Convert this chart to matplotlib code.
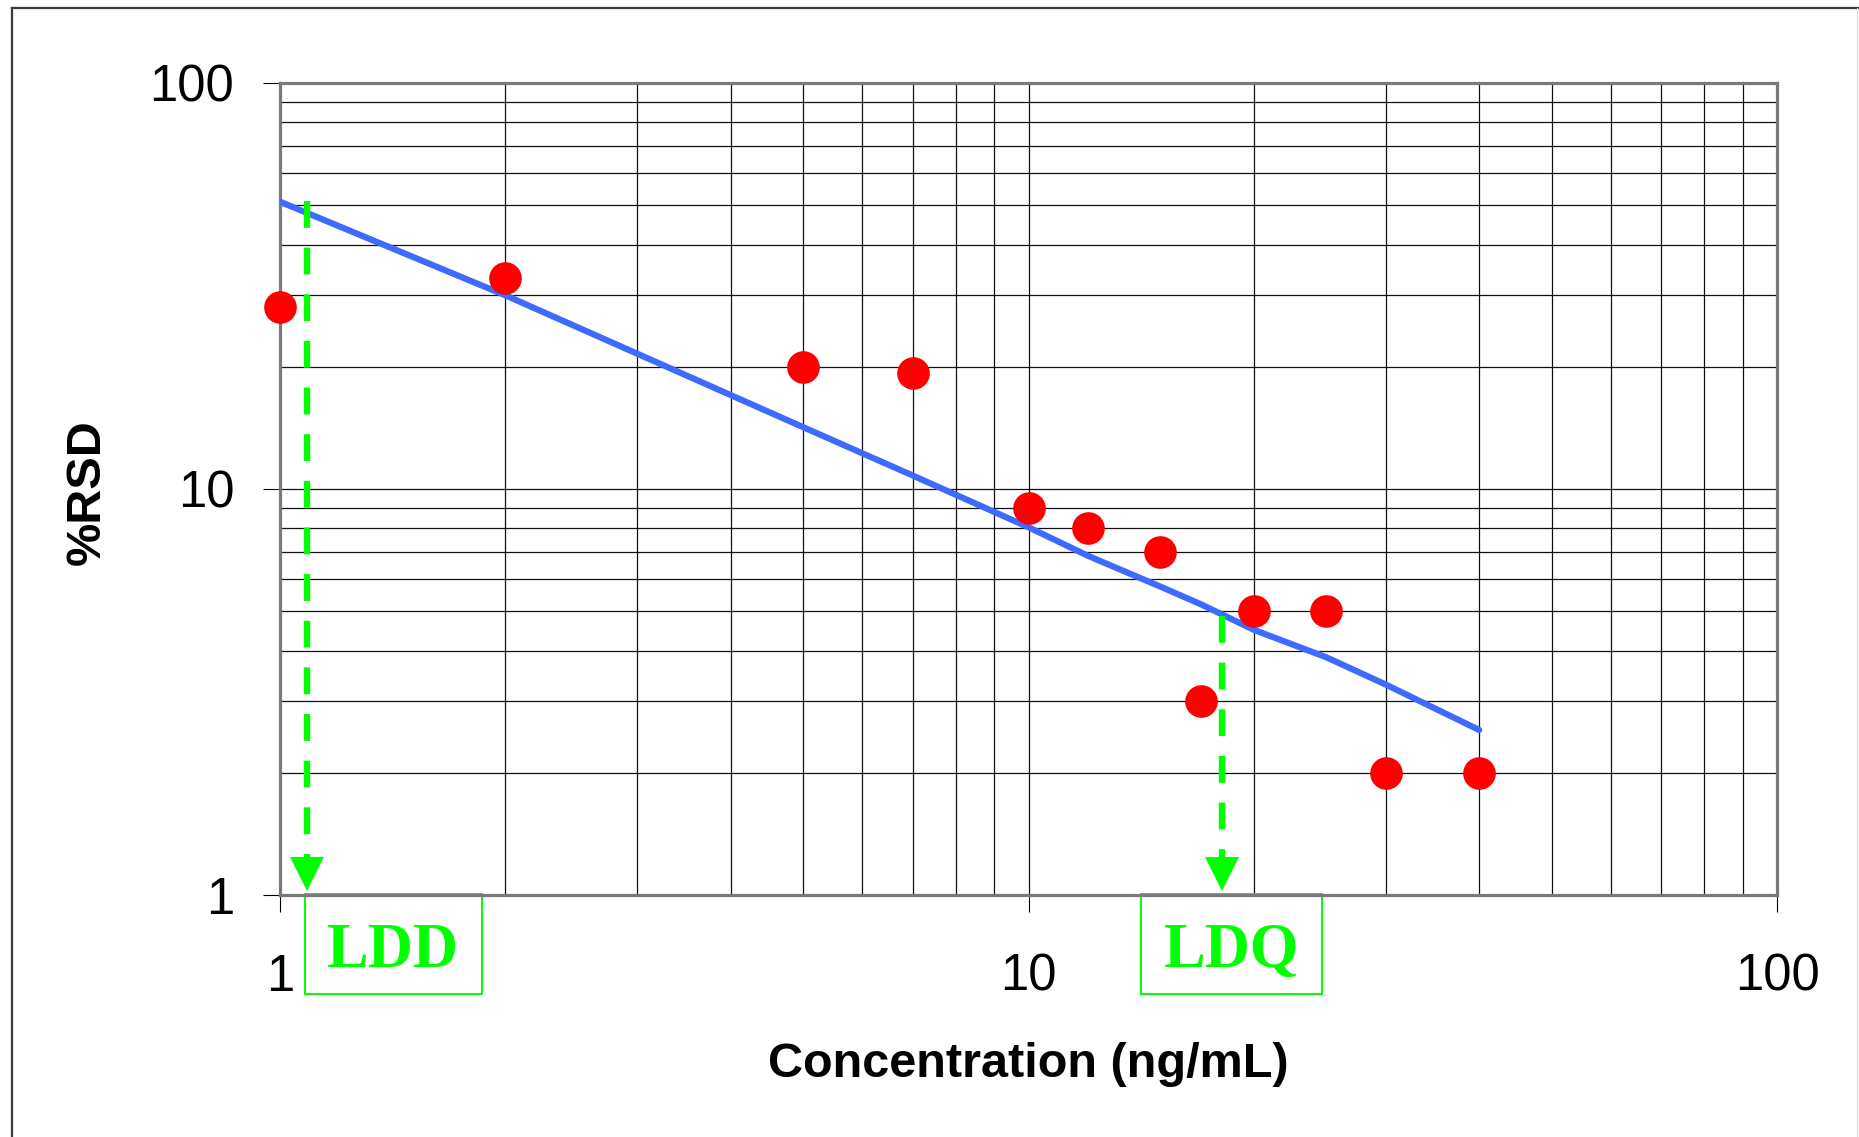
import matplotlib.pyplot as plt
from matplotlib.ticker import LogLocator, NullFormatter
from matplotlib.patches import Rectangle
from matplotlib.lines import Line2D
from matplotlib.transforms import offset_copy

# Datos: concentración (ng/mL) y %RSD medido
concentracion = [1, 2, 5, 7, 10, 12, 15, 17, 20, 25, 30, 40]
rsd = [28, 33, 20, 19.3, 9, 8, 7, 3, 5, 5, 2, 2]

# Curva de tendencia evaluada en cada concentración
rsd_ajuste = [51, 30, 14.2, 10.8, 8.05, 6.85, 5.75, 5.2, 4.5, 3.85, 3.3, 2.55]

# Límites de detección / cuantificación: posición x y altura donde empieza la flecha
limites = ["LDD", "LDQ"]
limites_x = [1.085, 18.15]
limites_y = [51.2, 4.87]

ticks = [1, 10, 100]
tick_labels = ["1", "10", "100"]

verde = "#00FF00"
sans = "Liberation Sans"
serif = "Liberation Serif"

W, H = 1859, 1137
fig = plt.figure(figsize=(W / 100, H / 100), dpi=100)
ax = fig.add_axes([280 / W, 1 - 895 / H, 1497 / W, 812 / H])

ax.set_xscale("log")
ax.set_yscale("log")
ax.set_xlim(1, 100)
ax.set_ylim(1, 100)

ax.set_xticks(ticks)
ax.set_xticklabels(tick_labels)
ax.set_yticks(ticks)
ax.set_yticklabels(tick_labels)
for eje in (ax.xaxis, ax.yaxis):
    eje.set_minor_locator(LogLocator(base=10, subs=range(2, 10)))
    eje.set_minor_formatter(NullFormatter())

ax.tick_params(which="minor", length=0)
ax.tick_params(which="major", length=12, width=0.8, color="black")
ax.tick_params(axis="x", pad=29.5)
ax.tick_params(axis="y", pad=21)
for lab in ax.get_xticklabels() + ax.get_yticklabels():
    lab.set_fontfamily(sans)
    lab.set_fontsize(36.5)

# Cuadrícula completa (mayor y menor)
ax.grid(True, which="both", color="#111111", linewidth=0.9)
ax.set_axisbelow(True)
for sp in ax.spines.values():
    sp.set_color("#7a7a7a")
    sp.set_linewidth(2.3)

# Curva de tendencia y puntos experimentales
ax.plot(concentracion, rsd_ajuste, color="#3D6BFF", linewidth=4.5,
        solid_capstyle="round", zorder=3)
ax.plot(concentracion, rsd, "o", color="red", markersize=23.5,
        markeredgewidth=0, zorder=4, clip_on=False)

# Flechas verdes punteadas hacia el eje x
punta = offset_copy(ax.transData, fig=fig, x=0, y=21, units="dots")
for x, y0 in zip(limites_x, limites_y):
    ax.plot([x, x], [y0, 1.24], color=verde, linewidth=4.6,
            linestyle=(0, (4.2, 3.1)), zorder=5)
    ax.plot([x], [1], marker="v", markersize=24, color=verde,
            markeredgewidth=0, transform=punta, zorder=5, clip_on=False)

# Recuadros con las etiquetas LDD y LDQ
cajas_x = [(305 - 280) / 1497, (1141 - 280) / 1497]
cajas_w = [177 / 1497, 181 / 1497]
textos_x = [(393 - 280) / 1497, (1231.5 - 280) / 1497]
for nombre, cx, cw, tx in zip(limites, cajas_x, cajas_w, textos_x):
    ax.add_patch(Rectangle((cx, -99 / 812), cw, 100 / 812, transform=ax.transAxes,
                           fill=False, edgecolor=verde, linewidth=1.4, clip_on=False))
    ax.text(tx, -71.7 / 812, nombre, transform=ax.transAxes, ha="center",
            va="baseline", color=verde, fontsize=45, fontweight="bold",
            fontfamily=serif)

# Títulos de los ejes
ax.text(0.5, -182 / 812, "Concentration (ng/mL)", transform=ax.transAxes,
        ha="center", va="baseline", fontsize=35, fontweight="bold", fontfamily=sans)
ax.text(-180 / 1497, 403 / 812, "%RSD", transform=ax.transAxes, rotation=90,
        rotation_mode="anchor", ha="center", va="baseline", fontsize=35,
        fontweight="bold", fontfamily=sans)

# Marco exterior
fig.add_artist(Line2D([12 / W, 12 / W], [0, 1 - 8 / H], transform=fig.transFigure,
                      color="#3c3c3c", linewidth=1.6))
fig.add_artist(Line2D([12 / W, 1], [1 - 8 / H, 1 - 8 / H], transform=fig.transFigure,
                      color="#3c3c3c", linewidth=1.6))
fig.add_artist(Line2D([1857 / W, 1857 / W], [0, 1 - 8 / H], transform=fig.transFigure,
                      color="#d9d9d9", linewidth=0.8))

fig.savefig("out.png", dpi=100)
